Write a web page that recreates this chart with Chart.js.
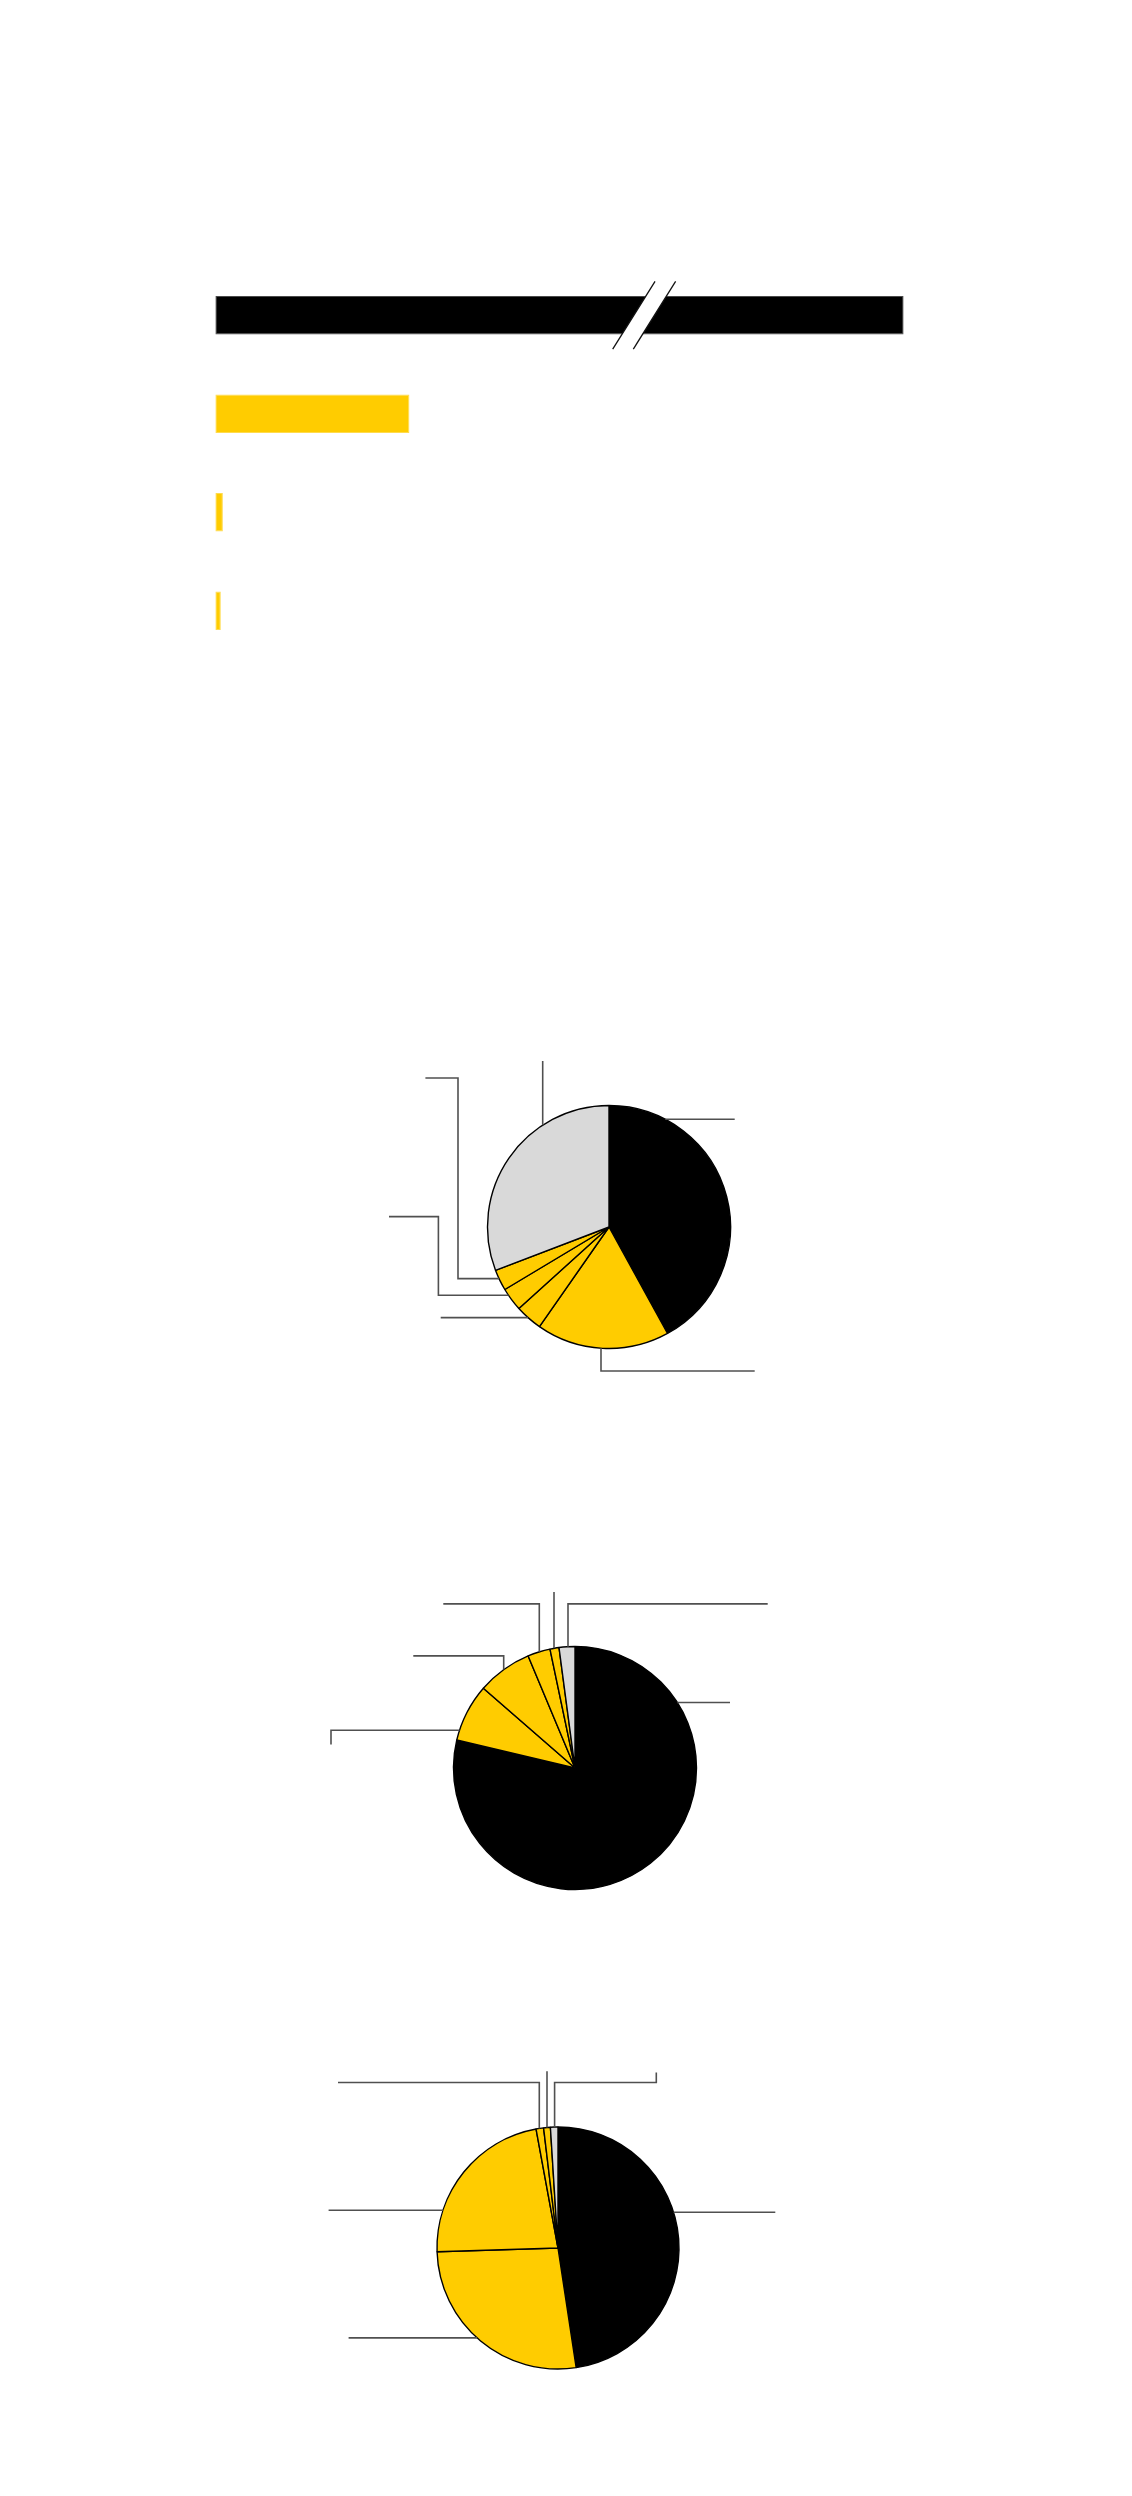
<!DOCTYPE html>
<html>
<head>
<meta charset="utf-8">
<script src="https://cdn.jsdelivr.net/npm/chart.js@4"></script>
<style>
  html, body { margin: 0; padding: 0; background: #ffffff; }
  body { width: 1132px; height: 2496px; position: relative; overflow: hidden; font-family: "Liberation Sans", Arial, sans-serif; }
  canvas { position: absolute; }
</style>
</head>
<body>
<canvas id="bars" width="1132" height="700" style="left:0;top:0"></canvas>
<canvas id="pie1" width="600" height="400" style="left:309px;top:1027px"></canvas>
<canvas id="pie2" width="600" height="400" style="left:275px;top:1568px"></canvas>
<canvas id="pie3" width="600" height="400" style="left:258px;top:2048px"></canvas>
<script>
// ---------- data ----------
const barCategories = ['A', 'B', 'C', 'D'];
const barValues = [100, 28.2, 1.1, 0.8];      // first bar is broken at the axis maximum
const barAxisMax = 100;
const barBreakAt = 62.3;                       // value where the break marks are drawn

const pieCategories = ['Black', 'Yellow 1', 'Yellow 2', 'Yellow 3', 'Yellow 4', 'Grey'];
const pie1Values = [42.0, 17.7, 3.6, 3.1, 2.8, 30.8];
const pie2Values = [78.7, 7.7, 7.3, 3.0, 1.2, 2.1];
const pie3Values = [47.6, 26.9, 22.6, 1.0, 0.9, 1.0];

// ---------- styles ----------
const BLACK = '#000000';
const YELLOW = '#ffcc00';
const GREY = '#d9d9d9';
const LEADER = '#505050';
const sliceColors = [BLACK, YELLOW, YELLOW, YELLOW, YELLOW, GREY];

// leader-line routes: side of the rim (a, deg clockwise from top), first segment direction,
// then offsets of the bend points from the pie centre
const pie1Leaders = [
  {a: 28.1,  d: 'h', pts: [[125.7, -107.7]]},
  {a: 327.3, d: 'v', pts: [[-66.3, -166]]},
  {a: 183.8, d: 'v', pts: [[-8, 144], [145.7, 144]]},
  {a: 245.1, d: 'h', pts: [[-151, 51.6], [-151, -149], [-183.6, -149]]},
  {a: 235.9, d: 'h', pts: [[-170.6, 68.3], [-170.6, -10.4], [-220, -10.4]]},
  {a: 221.8, d: 'h', pts: [[-168.3, 90.6]]}
];
const pie2Leaders = [
  {a: 57.6,  d: 'h', pts: [[155, -65.5]]},
  {a: 287.9, d: 'h', pts: [[-244, -37.8], [-244, -23.5]]},
  {a: 324.4, d: 'v', pts: [[-71.3, -112.1], [-161.7, -112.1]]},
  {a: 343.0, d: 'v', pts: [[-35.7, -164.1], [-131.7, -164.1]]},
  {a: 350.0, d: 'v', pts: [[-21, -176.1]]},
  {a: 356.7, d: 'v', pts: [[-7, -164.1], [192.7, -164.1]]}
];
const pie3Leaders = [
  {a: 72.8,  d: 'h', pts: [[217.3, -35.8]]},
  {a: 223.2, d: 'h', pts: [[-209.4, 89.9]]},
  {a: 288.0, d: 'h', pts: [[-229.4, -37.8]]},
  {a: 351.1, d: 'v', pts: [[-18.7, -165.5], [-220, -165.5]]},
  {a: 354.8, d: 'v', pts: [[-11, -176.8]]},
  {a: 358.4, d: 'v', pts: [[-3.4, -165.5], [98.3, -165.5], [98.3, -175.5]]}
];

Chart.defaults.animation = false;
Chart.defaults.events = [];
Chart.defaults.devicePixelRatio = 1;

// ---------- bar chart ----------
const breakPlugin = {
  id: 'breakMarks',
  afterDatasetsDraw(chart) {
    const bar = chart.getDatasetMeta(0).data[0];
    const xs = chart.scales.x;
    const cx = xs.getPixelForValue(barBreakAt);
    const cy = bar.y;
    const halfH = 33.8, slope = 0.626, gap = 10.3;
    const ctx = chart.ctx;
    ctx.save();
    ctx.beginPath();
    ctx.moveTo(cx - gap - slope * halfH, cy + halfH);
    ctx.lineTo(cx - gap + slope * halfH, cy - halfH);
    ctx.lineTo(cx + gap + slope * halfH, cy - halfH);
    ctx.lineTo(cx + gap - slope * halfH, cy + halfH);
    ctx.closePath();
    ctx.fillStyle = '#ffffff';
    ctx.fill();
    ctx.strokeStyle = '#111111';
    ctx.lineWidth = 1.3;
    [-gap, gap].forEach(g => {
      ctx.beginPath();
      ctx.moveTo(cx + g - slope * halfH, cy + halfH);
      ctx.lineTo(cx + g + slope * halfH, cy - halfH);
      ctx.stroke();
    });
    ctx.restore();
  }
};

new Chart(document.getElementById('bars'), {
  type: 'bar',
  data: {
    labels: barCategories,
    datasets: [{
      data: barValues,
      backgroundColor: [BLACK, YELLOW, YELLOW, YELLOW],
      borderColor: ['#4a4a4a', '#ffdb4d', '#ffdb4d', '#ffdb4d'],
      borderWidth: 1,
      borderSkipped: false,
      barPercentage: 0.39,
      categoryPercentage: 1
    }]
  },
  options: {
    indexAxis: 'y',
    responsive: false,
    maintainAspectRatio: false,
    layout: { padding: { left: 215.3, right: 228.3, top: 266, bottom: 40 } },
    plugins: { legend: { display: false }, tooltip: { enabled: false } },
    scales: {
      x: { display: false, min: 0, max: barAxisMax },
      y: { display: false }
    }
  },
  plugins: [breakPlugin]
});

// ---------- pies ----------
function leaderPlugin(leaders) {
  return {
    id: 'leaders',
    afterDatasetsDraw(chart) {
      const arcs = chart.getDatasetMeta(0).data;
      const ctx = chart.ctx;
      ctx.save();
      ctx.strokeStyle = LEADER;
      ctx.lineWidth = 1.6;
      leaders.forEach((l) => {
        const arc = arcs[0];
        const r = arc.outerRadius;
        const rad = l.a * Math.PI / 180;
        const p0 = l.pts[0];
        let sx, sy;
        if (l.d === 'h') {
          sy = p0[1];
          sx = Math.sign(Math.sin(rad)) * Math.sqrt(Math.max(r * r - sy * sy, 0));
        } else {
          sx = p0[0];
          sy = -Math.sign(Math.cos(rad)) * Math.sqrt(Math.max(r * r - sx * sx, 0));
        }
        ctx.beginPath();
        ctx.moveTo(arc.x + sx, arc.y + sy);
        l.pts.forEach(p => ctx.lineTo(arc.x + p[0], arc.y + p[1]));
        ctx.stroke();
      });
      ctx.restore();
    }
  };
}

function makePie(id, values, leaders, radius) {
  new Chart(document.getElementById(id), {
    type: 'pie',
    data: {
      labels: pieCategories,
      datasets: [{
        data: values,
        backgroundColor: sliceColors,
        borderColor: '#000000',
        borderWidth: 1.4,
        radius: radius
      }]
    },
    options: {
      responsive: false,
      maintainAspectRatio: false,
      layout: { padding: 0 },
      plugins: { legend: { display: false }, tooltip: { enabled: false } }
    },
    plugins: [leaderPlugin(leaders)]
  });
}

makePie('pie1', pie1Values, pie1Leaders, 121.5);
makePie('pie2', pie2Values, pie2Leaders, 121.5);
makePie('pie3', pie3Values, pie3Leaders, 121);
</script>
</body>
</html>
